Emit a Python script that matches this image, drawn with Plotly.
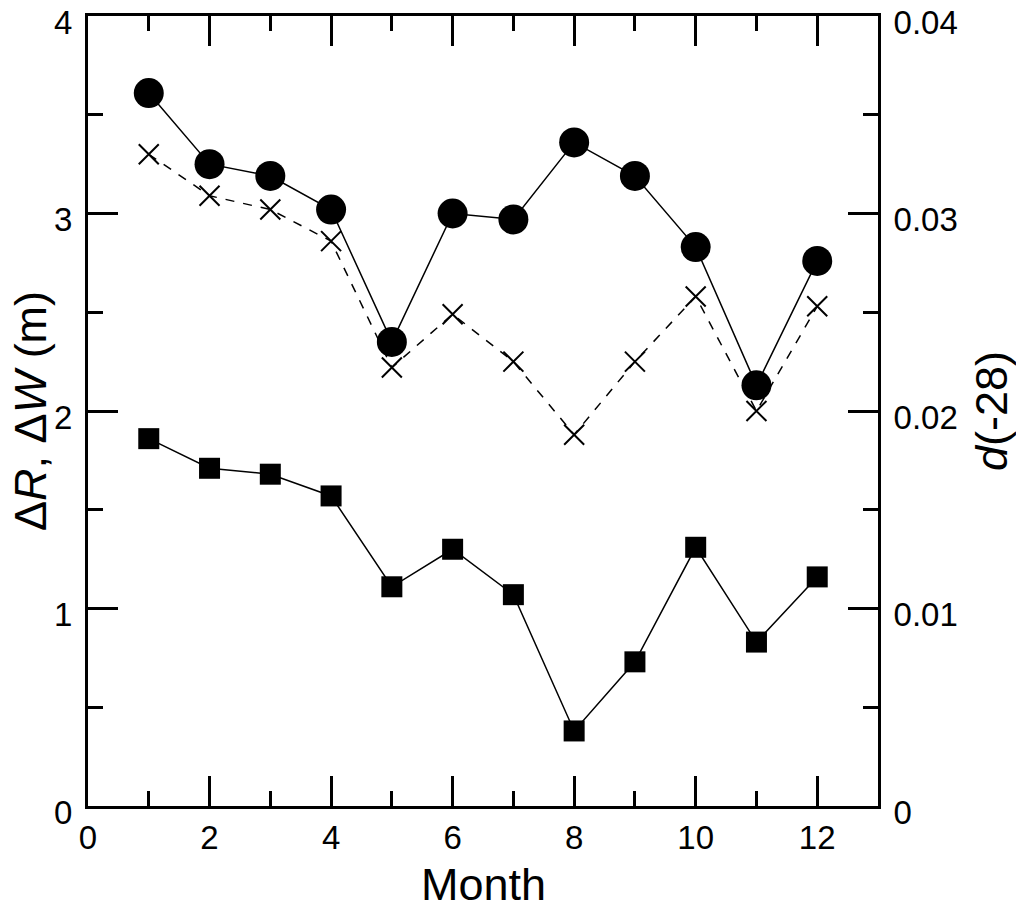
import plotly.graph_objects as go

months = [1, 2, 3, 4, 5, 6, 7, 8, 9, 10, 11, 12]
delta_r = [3.61, 3.25, 3.19, 3.02, 2.35, 3.00, 2.97, 3.36, 3.19, 2.83, 2.13, 2.76]
delta_w = [3.30, 3.09, 3.02, 2.86, 2.22, 2.49, 2.25, 1.88, 2.25, 2.58, 2.00, 2.53]
d_28 = [0.0186, 0.0171, 0.0168, 0.0157, 0.0111, 0.0130, 0.0107, 0.0038, 0.0073, 0.0131, 0.0083, 0.0116]

x_ticks = [0, 2, 4, 6, 8, 10, 12]
y_ticks = [0, 1, 2, 3, 4]
y2_ticks = [0, 0.01, 0.02, 0.03, 0.04]
y2_labels = ["0", "0.01", "0.02", "0.03", "0.04"]

x_title = "Month"
y_title = "Δ<i>R</i>, Δ<i>W</i> (m)"
y2_title = "<i>d</i>(-28)"

font = "Liberation Sans, Arial, sans-serif"
TICK = 33
TITLE = 45

fig = go.Figure()
fig.add_trace(go.Scatter(x=months, y=delta_w, mode="lines+markers",
                         line=dict(color="black", width=1.5, dash="dash"),
                         marker=dict(symbol="x-thin", size=20, line=dict(color="black", width=2)),
                         showlegend=False))
fig.add_trace(go.Scatter(x=months, y=delta_r, mode="lines+markers",
                         line=dict(color="black", width=1.5),
                         marker=dict(symbol="circle", size=30, color="black"),
                         showlegend=False))
fig.add_trace(go.Scatter(x=months, y=d_28, mode="lines+markers", yaxis="y2",
                         line=dict(color="black", width=1.5),
                         marker=dict(symbol="square", size=21, color="black"),
                         showlegend=False))

common = dict(ticks="inside", ticklen=30, tickwidth=3, tickcolor="black",
              showline=True, linecolor="black", linewidth=3,
              showgrid=False, zeroline=False, automargin=False,
              ticklabeloverflow="allow",
              tickfont=dict(size=TICK))

fig.update_layout(
    width=1016, height=898,
    margin=dict(l=80, r=146, t=8, b=100),
    paper_bgcolor="white", plot_bgcolor="white",
    font=dict(family=font, color="black", size=TICK),
    xaxis=dict(range=[0, 13], tickvals=x_ticks, mirror="ticks",
               minor=dict(dtick=1, tick0=0, ticks="inside", ticklen=15, tickwidth=3,
                          tickcolor="black", showgrid=False),
               **common),
    yaxis=dict(range=[0, 4], tickvals=y_ticks, mirror=True, ticklabelstandoff=6,
               ticklabelshift=6,
               minor=dict(dtick=0.5, tick0=0, ticks="inside", ticklen=15, tickwidth=3,
                          tickcolor="black", showgrid=False),
               **common),
    yaxis2=dict(range=[0, 0.04], tickvals=y2_ticks, ticktext=y2_labels,
                overlaying="y", side="right", ticklabelstandoff=6, ticklabelshift=6,
                minor=dict(dtick=0.005, tick0=0, ticks="inside", ticklen=15,
                           tickwidth=3, tickcolor="black", showgrid=False),
                **common),
    annotations=[
        dict(text=x_title, xref="paper", yref="paper", x=0.5, y=0, xanchor="center",
             yanchor="middle", yshift=-78, showarrow=False, font=dict(size=TITLE)),
        dict(text=y_title, xref="paper", yref="paper", x=0, y=0.5, xanchor="center",
             yanchor="middle", xshift=-58, textangle=-90, showarrow=False,
             font=dict(size=TITLE)),
        dict(text=y2_title, xref="paper", yref="paper", x=1, y=0.5, xanchor="center",
             yanchor="middle", xshift=113, textangle=-90, showarrow=False,
             font=dict(size=TITLE)),
    ],
)

fig.write_html("out.html")
